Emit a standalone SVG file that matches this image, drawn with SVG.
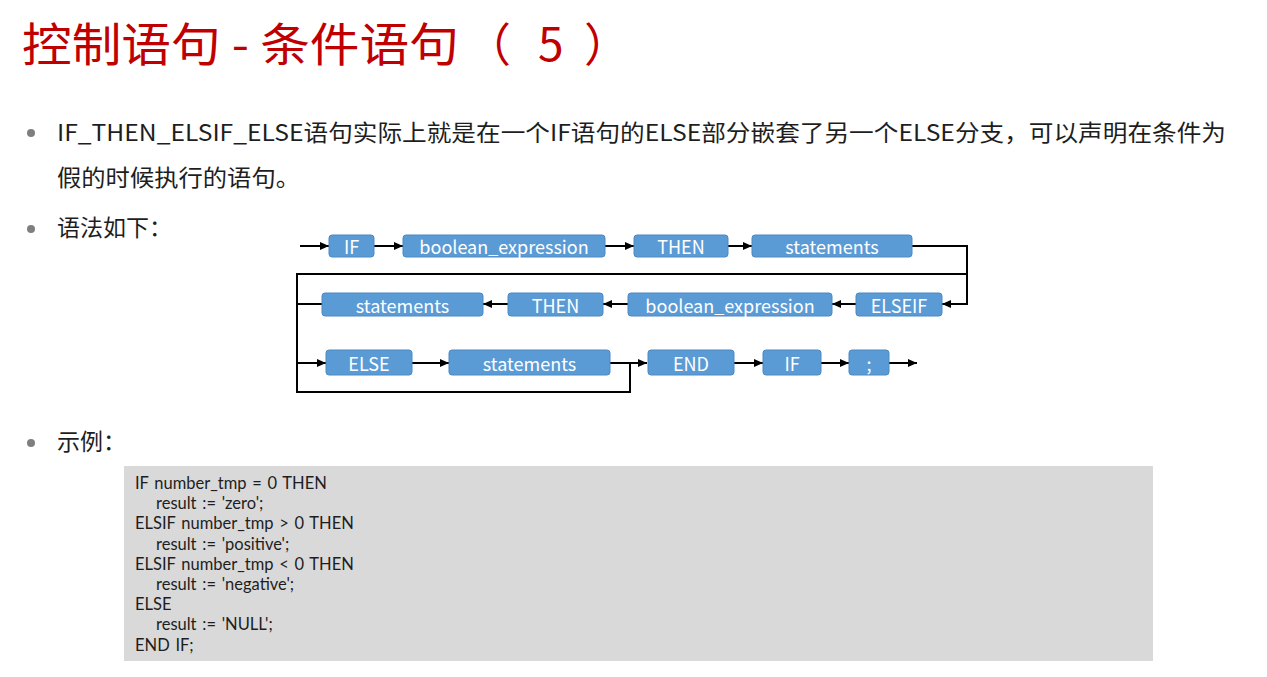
<svg xmlns="http://www.w3.org/2000/svg" width="1267" height="677" viewBox="0 0 1267 677">
  <style>
    .title { font-family: "Noto Sans CJK SC", "Noto Sans", sans-serif; font-size: 46px; fill: #C00000; }
    .body { font-family: "Noto Sans CJK SC", "Noto Sans", sans-serif; font-size: 23px; fill: #1E1E1E; }
    .dot { fill: #7F7F7F; }
    .box rect { fill: #5B9BD5; stroke: #4A89C4; stroke-width: 1; }
    .box text { font-family: "Noto Sans CJK SC", "Noto Sans", sans-serif; font-size: 18px; fill: #FFFFFF; text-anchor: middle; dominant-baseline: central; }
    .wire { fill: none; stroke: #000000; stroke-width: 2; }
    .code { font-family: Lato, "Noto Sans", sans-serif; font-size: 16.5px; fill: #1E1E1E; word-spacing: 1.5px; }
  </style>
  <defs>
    <marker id="arrow" markerUnits="userSpaceOnUse" markerWidth="10" markerHeight="10" refX="9" refY="4" orient="auto">
      <path d="M0,0 L9,4 L0,8 z" fill="#000000"/>
    </marker>
  </defs>

  <rect x="0" y="0" width="1267" height="677" fill="#FFFFFF"/>

  <!-- heading -->
  <text class="title" y="61"><tspan x="22" textLength="448" lengthAdjust="spacingAndGlyphs">控制语句 - 条件语句 </tspan><tspan x="465">（</tspan><tspan x="538">5</tspan><tspan x="584">）</tspan></text>

  <!-- bullet list -->
  <circle class="dot" cx="31" cy="133" r="4"/>
  <text class="body" x="57" y="141" textLength="1169" lengthAdjust="spacingAndGlyphs">IF_THEN_ELSIF_ELSE语句实际上就是在一个IF语句的ELSE部分嵌套了另一个ELSE分支，可以声明在条件为</text>
  <text class="body" x="57" y="186" textLength="243" lengthAdjust="spacingAndGlyphs">假的时候执行的语句。</text>
  <circle class="dot" cx="31" cy="229" r="4"/>
  <text class="body" x="57" y="236">语法如下：</text>
  <circle class="dot" cx="31" cy="443" r="4"/>
  <text class="body" x="57" y="450">示例：</text>

  <!-- syntax diagram connectors -->
  <g id="connectors">
    <line class="wire" x1="300" y1="246" x2="329" y2="246" marker-end="url(#arrow)"/>
    <line class="wire" x1="374" y1="246" x2="403" y2="246" marker-end="url(#arrow)"/>
    <line class="wire" x1="605" y1="246" x2="634" y2="246" marker-end="url(#arrow)"/>
    <line class="wire" x1="728" y1="246" x2="752" y2="246" marker-end="url(#arrow)"/>
    <path class="wire" d="M912,246 H967 V304 H942" marker-end="url(#arrow)"/>
    <line class="wire" x1="856" y1="304" x2="832" y2="304" marker-end="url(#arrow)"/>
    <line class="wire" x1="628" y1="304" x2="603" y2="304" marker-end="url(#arrow)"/>
    <line class="wire" x1="508" y1="304" x2="483" y2="304" marker-end="url(#arrow)"/>
    <path class="wire" d="M967,274 H297 V392 H630 V363"/>
    <line class="wire" x1="322" y1="304" x2="297" y2="304"/>
    <line class="wire" x1="297" y1="363" x2="326" y2="363" marker-end="url(#arrow)"/>
    <line class="wire" x1="412" y1="363" x2="449" y2="363" marker-end="url(#arrow)"/>
    <line class="wire" x1="610" y1="363" x2="647" y2="363" marker-end="url(#arrow)"/>
    <line class="wire" x1="734" y1="363" x2="763" y2="363" marker-end="url(#arrow)"/>
    <line class="wire" x1="821" y1="363" x2="849" y2="363" marker-end="url(#arrow)"/>
    <line class="wire" x1="889" y1="363" x2="917" y2="363" marker-end="url(#arrow)"/>
  </g>

  <!-- row 1 -->
  <g id="n-if" class="box"><rect x="329" y="235" width="45" height="22" rx="3"/><text x="351.5" y="246">IF</text></g>
  <g id="n-bool1" class="box"><rect x="403" y="235" width="202" height="22" rx="3"/><text x="504" y="246">boolean_expression</text></g>
  <g id="n-then1" class="box"><rect x="634" y="235" width="94" height="22" rx="3"/><text x="681" y="246">THEN</text></g>
  <g id="n-stmt1" class="box"><rect x="752" y="235" width="160" height="22" rx="3"/><text x="832" y="246">statements</text></g>

  <!-- row 2 -->
  <g id="n-elseif" class="box"><rect x="856" y="293" width="86" height="23" rx="3"/><text x="899" y="304.5">ELSEIF</text></g>
  <g id="n-bool2" class="box"><rect x="628" y="293" width="204" height="23" rx="3"/><text x="730" y="304.5">boolean_expression</text></g>
  <g id="n-then2" class="box"><rect x="508" y="293" width="95" height="23" rx="3"/><text x="555.5" y="304.5">THEN</text></g>
  <g id="n-stmt2" class="box"><rect x="322" y="293" width="161" height="23" rx="3"/><text x="402.5" y="304.5">statements</text></g>

  <!-- row 3 -->
  <g id="n-else" class="box"><rect x="326" y="350" width="86" height="25" rx="3"/><text x="369" y="362.5">ELSE</text></g>
  <g id="n-stmt3" class="box"><rect x="449" y="350" width="161" height="25" rx="3"/><text x="529.5" y="362.5">statements</text></g>
  <g id="n-end" class="box"><rect x="648" y="350" width="86" height="25" rx="3"/><text x="691" y="362.5">END</text></g>
  <g id="n-if2" class="box"><rect x="763" y="350" width="58" height="25" rx="3"/><text x="792" y="362.5">IF</text></g>
  <g id="n-semi" class="box"><rect x="849" y="350" width="40" height="25" rx="3"/><text x="869" y="362.5">;</text></g>

  <!-- example code -->
  <rect x="124" y="466" width="1029" height="195" fill="#D9D9D9"/>
  <g class="code">
    <text x="135" y="489">IF number_tmp = 0 THEN</text>
    <text x="156" y="509">result := 'zero';</text>
    <text x="135" y="529">ELSIF number_tmp &gt; 0 THEN</text>
    <text x="156" y="550">result := 'positive';</text>
    <text x="135" y="570">ELSIF number_tmp &lt; 0 THEN</text>
    <text x="156" y="590">result := 'negative';</text>
    <text x="135" y="610">ELSE</text>
    <text x="156" y="630">result := 'NULL';</text>
    <text x="135" y="651">END IF;</text>
  </g>
</svg>
